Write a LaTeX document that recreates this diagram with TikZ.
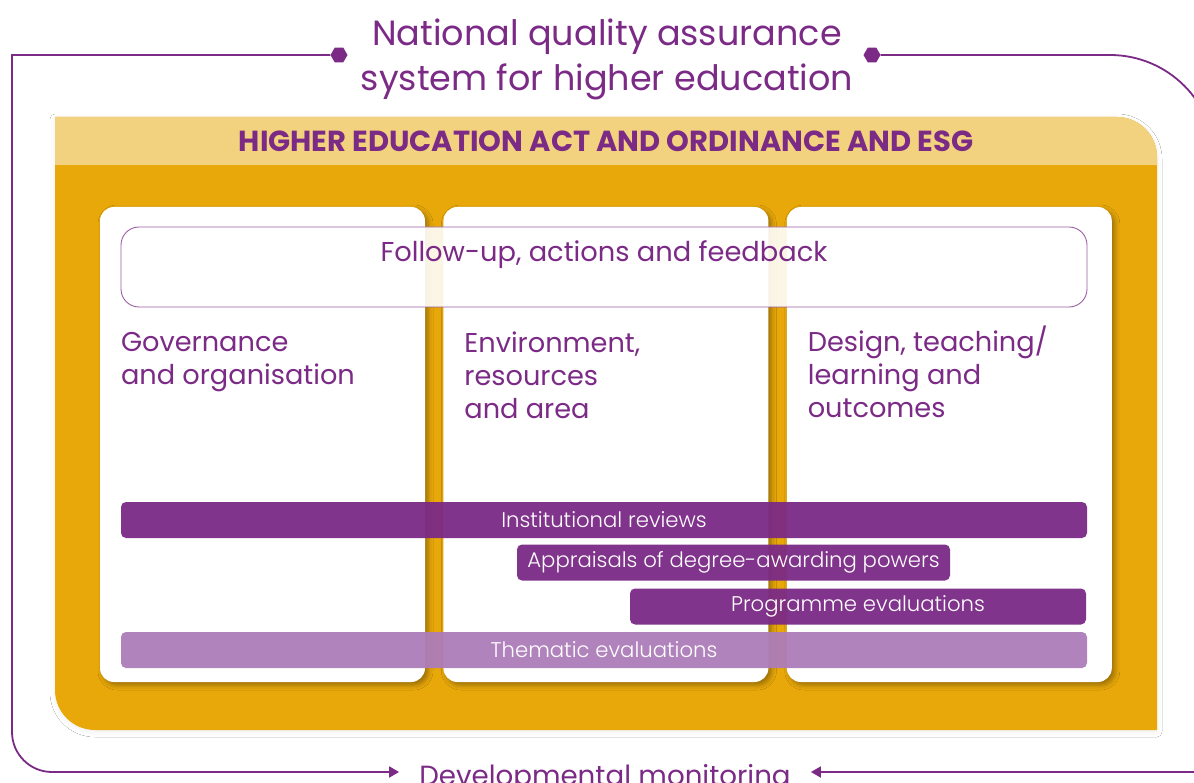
\documentclass[tikz,border=0pt]{standalone}
\usepackage{fontspec}
\setmainfont{Poppins}
\newfontfamily\lightfont{Poppins Light}
\usepackage{xcolor}
\usepackage{tikz}
\usetikzlibrary{positioning,calc,shapes.geometric,arrows.meta,shadows.blur}
\definecolor{qapurple}{RGB}{123,42,134}
\definecolor{qalilac}{RGB}{173,125,185}
\definecolor{qaorange}{RGB}{232,168,10}
\definecolor{qayellow}{RGB}{242,210,126}

\begin{document}
\begin{tikzpicture}[x=1pt,y=-1pt,
					loopline/.style={draw=qapurple, line width=1.8pt},
					hexdot/.style={regular polygon, regular polygon sides=6, fill=qapurple,
						minimum size=17pt, inner sep=0pt},
					column/.style={fill=white, rounded corners=14pt,
						minimum width=325pt, minimum height=475pt,
						blur shadow={shadow xshift=3pt, shadow yshift=-3pt,
							shadow blur radius=5pt, shadow opacity=35}},
					collabel/.style={anchor=north west, inner sep=0pt, align=left,
						text=qapurple, font=\fontsize{27.2}{33}\selectfont},
					feedback/.style={draw=qapurple!75, line width=0.9pt, fill=white,
						fill opacity=0.9, text opacity=1, rounded corners=18pt,
						minimum width=966pt, inner ysep=0pt, text height=35pt, text depth=45pt,
						text=qapurple, font=\fontsize{27.3}{30}\selectfont},
					bar/.style={fill=qapurple, fill opacity=0.95, text opacity=1, text=white,
						rounded corners=5pt, minimum height=36pt, inner sep=0pt,
						font=\lightfont\fontsize{21.2}{24}\selectfont}
					]
					\useasboundingbox (0,0) rectangle (1194,783);
					\fill[white] (0,0) rectangle (1194,783);
					
					% orange panel with the yellow header band
					\path[fill=qaorange, blur shadow={shadow xshift=0pt, shadow yshift=-2pt,
						shadow blur radius=5pt, shadow opacity=6}]
					(55,117) -- (1117,117) arc[start angle=270, end angle=360, radius=40]
					-- (1157,730) -- (95,730) arc[start angle=90, end angle=180, radius=40] -- cycle;
					\fill[qayellow] (55,117) -- (1117,117) arc[start angle=270, end angle=360, radius=40]
					-- (1157,165) -- (55,165) -- cycle;
					\node[font=\bfseries\fontsize{29}{32}\selectfont, text=qapurple] (act) at (606,141)
					{HIGHER EDUCATION ACT AND ORDINANCE AND ESG};
					
					% three white columns
					\node[column] (colGov) at (262.5,444.5) {};
					\node[column, right=18pt of colGov] (colEnv) {};
					\node[column, right=18pt of colEnv] (colDes) {};
					
					\node[feedback] (follow) at (604,267) {Follow-up, actions and feedback};
					
					% the slash makes the third label taller, so it sits a little higher
					\node[collabel, below right=125pt and 21pt of colGov.north west] (govText)
					{Governance\\and organisation};
					\node[collabel, below right=125pt and 21pt of colEnv.north west] (envText)
					{Environment,\\resources\\and area};
					\node[collabel, below right=119pt and 21pt of colDes.north west] (desText)
					{Design, teaching/\\learning and\\outcomes};
					
					% review bars
					\node[bar, minimum width=966pt] (barInst) at (604,520) {Institutional reviews};
					\node[bar, minimum width=433pt] (barAppr) at (733.5,562.5) {Appraisals of degree-awarding powers};
					\node[bar, minimum width=456pt] (barProg) at (858,606.5) {Programme evaluations};
					\node[bar, fill=qalilac, minimum width=966pt] (barThem) at (604,650) {Thematic evaluations};
					
					% outer loop
					\node[text=qapurple, align=center, font=\fontsize{35}{45}\selectfont] (title) at (607,59)
					{National quality assurance\\system for higher education};
					\node[hexdot] (hexL) at (339,55) {};
					\node[hexdot] (hexR) at (872,55) {};
					\node[text=qapurple, font=\fontsize{27.7}{32}\selectfont, anchor=base, inner xsep=20pt]
					(monitor) at (605,785) {Developmental monitoring};
					
					\coordinate (cTL) at (12,55);
					\coordinate (cBL) at (12,772);
					\coordinate (cTR) at (1110,55);
					\coordinate (cBR) at (1200,772);
					
					\draw[loopline, -{Triangle[length=10pt,width=11pt]}] (hexL) -- (cTL)
					-- ($(cBL)+(0,-40)$) arc[start angle=180, end angle=90, radius=40]
					-- (monitor.west |- cBL);
					\draw[loopline] (hexR) -- (cTR) arc[start angle=270, end angle=360, radius=105];
					\draw[loopline, -{Triangle[length=10pt,width=11pt]}] (cBR) -- (monitor.east |- cBR);
				\end{tikzpicture}
\end{document}
